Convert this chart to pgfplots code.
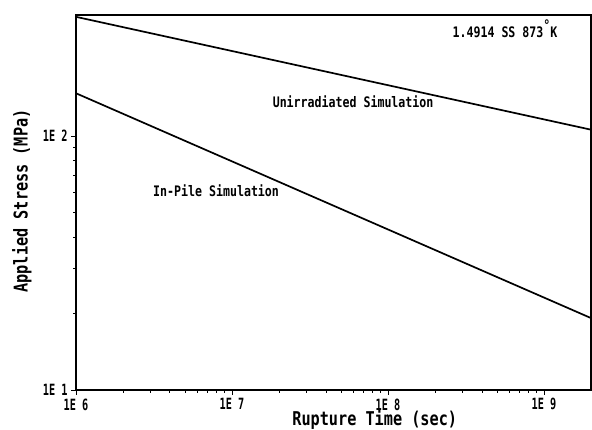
\documentclass[border=0pt]{standalone}
\usepackage{pgfplots}
\pgfplotsset{compat=1.18}
\usepackage{fontspec}
\setmainfont{DejaVu Sans Mono}
\newfontfamily\plotfont[FakeStretch=0.8]{DejaVu Sans Mono Bold}
\newfontfamily\tickfont[FakeStretch=0.66]{DejaVu Sans Mono Bold}

\begin{document}
\begin{tikzpicture}
\begin{axis}[
  xmode=log, ymode=log,
  scale only axis, width=515pt, height=375pt,
  xmin=1e6, xmax=2e9, ymin=10, ymax=300,
  axis line style={line width=1.5pt},
  xtick={1e6,1e7,1e8,1e9}, xticklabels={1E 6,1E 7,1E 8,1E 9},
  ytick={10,100}, yticklabels={1E 1,1E 2},
  tick align=outside, major tick length=5pt, minor tick length=3pt,
  tick style={line width=0.9pt, black},
  xtick pos=bottom, ytick pos=left,
  tick label style={font=\tickfont\fontsize{15.5}{16}\selectfont},
  xlabel={Rupture Time  (sec)}, ylabel={Applied Stress  (MPa)},
  label style={font=\plotfont\fontsize{19}{20}\selectfont},
  xlabel style={at={(axis description cs:0.58,-0.08)}, anchor=center},
  ylabel style={at={(axis description cs:-0.105,0.504)}, anchor=center},
  clip=true,
]
\addplot[black, line width=1.7pt] coordinates {(1e6,295) (2e9,106)};
\addplot[black, line width=1.7pt] coordinates {(1e6,147.5) (2e9,19.2)};
\node[font=\plotfont\fontsize{14.5}{15}\selectfont] at (rel axis cs:0.538,0.768) {Unirradiated Simulation};
\node[font=\plotfont\fontsize{14.5}{15}\selectfont] at (rel axis cs:0.272,0.531) {In-Pile Simulation};
\node[font=\plotfont\fontsize{14.5}{15}\selectfont] at (rel axis cs:0.833,0.963) {1.4914 SS  873\raisebox{0.9ex}{°}K};
\end{axis}
\pgfresetboundingbox
\path[use as bounding box] (-76pt,-40pt) rectangle (516pt,390pt);
\end{tikzpicture}
\end{document}
